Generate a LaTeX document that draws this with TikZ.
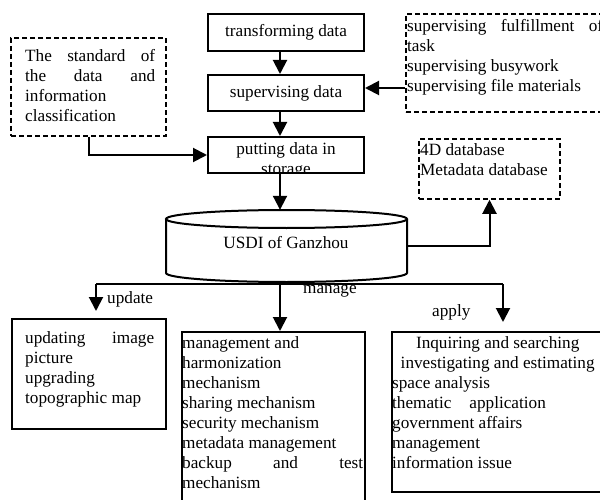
\documentclass[tikz,border=0pt]{standalone}
\usepackage{fontspec}
\setmainfont{Liberation Serif}
\usetikzlibrary{arrows.meta}
\newcommand\jline[2]{\makebox[#1][s]{#2}}
\begin{document}
\begin{tikzpicture}[x=1pt,y=-1pt,
  every node/.style={font=\fontsize{17.2}{20}\selectfont},
  box/.style={draw, line width=2pt, inner sep=0pt},
  dbox/.style={draw, line width=1.5pt, dash pattern=on 5pt off 3pt, inner sep=0pt},
  arr/.style={line width=2pt, -{Triangle[length=14pt,width=14pt]}},
  txt/.style={anchor=north west, inner sep=0pt, align=left},
  lab/.style={anchor=base west, inner sep=0pt}]
\path[use as bounding box, clip] (0,0) rectangle (600,500);
\fill[white] (0,0) rectangle (600,500);

% top chain
\node[box, minimum width=156pt, minimum height=37pt] (trans) at (286,32.5) {transforming data};
\node[box, minimum width=156pt, minimum height=36pt] (sup) at (286,93) {supervising data};
\begin{scope}
  \clip (208,137) rectangle (364,173);
  \node[anchor=north, inner sep=0pt, align=center] (putt) at (286,140) {\strut putting data in\\storage};
\end{scope}
\node[box, minimum width=156pt, minimum height=36pt] (put) at (286,155) {};

% dashed boxes
\node[dbox, minimum width=155pt, minimum height=98pt] (ld) at (88.5,87) {};
\node[txt] (ldt) at (25,47) {\strut\jline{130pt}{The standard of}\\\jline{130pt}{the data and}\\information\\classification};

\node[dbox, minimum width=206pt, minimum height=98pt] (rd) at (509,63) {};
\node[txt] (rdt) at (407,17) {\strut\jline{196pt}{supervising fulfillment of}\\task\\supervising busywork\\supervising file materials};

\node[dbox, minimum width=141pt, minimum height=60pt] (fd) at (489.5,169) {};
\node[txt] (fdt) at (420,141) {\strut 4D database\\Metadata database};

% cylinder
\node[minimum width=241pt, minimum height=72pt, inner sep=0pt] (db) at (286.5,246) {};
\draw[line width=2pt] (166,219) -- (166,273) arc[start angle=180, end angle=0, x radius=120.5, y radius=9] -- (407,219);
\draw[line width=2pt] (286.5,219) ellipse[x radius=120.5, y radius=9];
\node[inner sep=0pt] (dbt) at (286,243) {USDI of Ganzhou};

% arrows top
\draw[arr] ([xshift=-6pt]trans.south) -- ([xshift=-6pt]sup.north);
\draw[arr] ([xshift=-6pt]sup.south) -- ([xshift=-6pt]put.north);
\draw[arr] ([yshift=-25pt]rd.west) -- ([yshift=5pt]sup.east);
\draw[arr] (ld.south) |- (put.west);
\draw[arr] ([xshift=-6pt]put.south) -- ([xshift=-6.5pt]db.north);
\draw[arr] (db.east) -| (fd.south);

% bottom boxes
\node[box, minimum width=154pt, minimum height=110pt] (ud) at (89,374) {};
\node[txt] (udt) at (25,329) {\strut\jline{129pt}{updating image}\\picture\\upgrading\\topographic map};

\node[box, minimum width=183pt, minimum height=180pt] (mg) at (273.5,422) {};
\node[txt] (mgt) at (182,334) {\strut management and\\harmonization\\mechanism\\sharing mechanism\\security mechanism\\metadata management\\\jline{181pt}{backup and test}\\mechanism};

\node[box, minimum width=213pt, minimum height=160pt] (ap) at (498.5,412) {};
\node[txt] (apt) at (392,334) {\strut\makebox[211pt]{Inquiring and searching}\\\makebox[211pt]{investigating and estimating}\\space analysis\\thematic\hspace*{18pt}application\\government affairs\\management\\information issue};

% bottom connectors
\coordinate (jL) at (96,284);
\coordinate (jR) at (503,284);
\draw[line width=2pt] (jL) -- (jR);
\draw[arr] ([xshift=-6.5pt]db.south) -- ([xshift=6.5pt]mg.north);
\draw[arr, shorten >=7pt] (jL) -- (jL |- ud.north);
\draw[arr, shorten >=9pt] (jR) -- (jR |- ap.north);

% labels
\node[lab] (lu) at (107,303) {update};
\node[lab] (lm) at (303,293) {manage};
\node[lab] (la) at (432,316) {apply};
\end{tikzpicture}
\end{document}
